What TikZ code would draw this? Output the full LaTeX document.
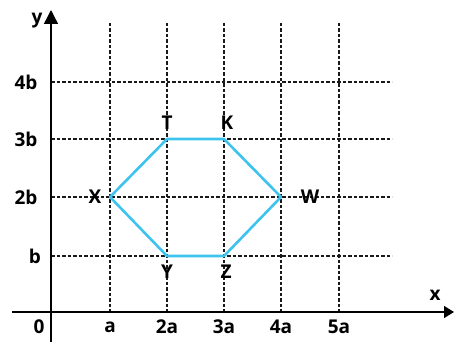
\documentclass[tikz,border=0pt]{standalone}
\usepackage{fontspec}
\setmainfont{Open Sans}
\usetikzlibrary{arrows.meta}
\definecolor{hexblue}{HTML}{3EC3EE}
\begin{document}
\begin{tikzpicture}[x=1pt,y=-1pt,
  grid/.style={draw=black!90,line width=1.1pt,dash pattern=on 3.5pt off 2pt},
  axis/.style={draw=black,line width=1.4pt},
  lbl/.style={font=\fontsize{19}{21}\selectfont\bfseries,inner sep=0pt},
  pt/.style={inner sep=0pt,minimum size=0pt},
  edge/.style={draw=hexblue,line width=2.6pt,line join=round}]
\useasboundingbox (0,0) rectangle (454,342);
% grid
\foreach \xx in {110,167,224,281,339}{
  \draw[grid] (\xx,23) -- (\xx,312);
}
\foreach \yy in {82,139,197,256}{
  \draw[grid] (51,\yy) -- (392,\yy);
}
% axes
\coordinate (xs) at (12,312);
\coordinate (xe) at (454,312);
\coordinate (ys) at (51,342);
\coordinate (ye) at (51,10);
\draw[axis,-{Triangle[length=10pt,width=12pt]}] (xs) -- (xe);
\draw[axis,-{Triangle[length=14pt,width=14pt]}] (ys) -- (ye);
% axis labels
\node[lbl] (ylab) at (37,21) {y};
\node[lbl] (xlab) at (435,295) {x};
\node[lbl] (l4b) at (26,82) {4b};
\node[lbl] (l3b) at (26,139) {3b};
\node[lbl] (l2b) at (26,197) {2b};
\node[lbl] (lb) at (35,256) {b};
\node[lbl] (l0) at (39,327) {0};
\node[lbl] (la) at (110,327) {a};
\node[lbl] (l2a) at (167,327) {2a};
\node[lbl] (l3a) at (224,327) {3a};
\node[lbl] (l4a) at (281,327) {4a};
\node[lbl] (l5a) at (339,327) {5a};
% hexagon
\node[pt] (X) at (110,197) {};
\node[pt] (T) at (167,139) {};
\node[pt] (K) at (224,139) {};
\node[pt] (W) at (281,197) {};
\node[pt] (Z) at (224,256) {};
\node[pt] (Y) at (167,256) {};
\draw[edge] (X.center) -- (T.center) -- (K.center) -- (W.center) -- (Z.center) -- (Y.center) -- cycle;
\node[lbl] (tX) at (95,197) {X};
\node[lbl] (tT) at (167,123) {T};
\node[lbl] (tK) at (227,123) {K};
\node[lbl] (tW) at (310,197) {W};
\node[lbl] (tY) at (167,272) {Y};
\node[lbl] (tZ) at (226,272) {Z};
\end{tikzpicture}
\end{document}
